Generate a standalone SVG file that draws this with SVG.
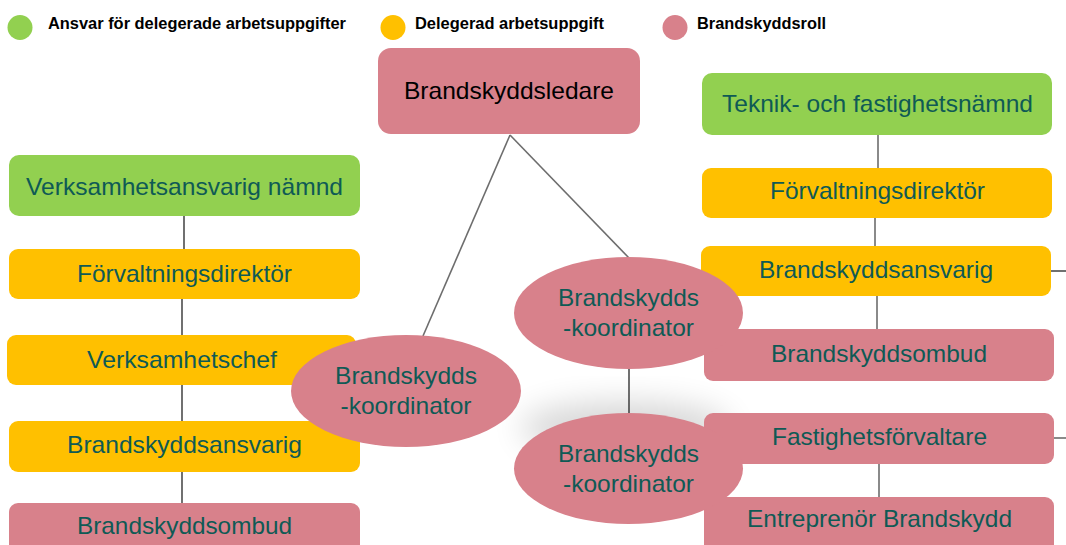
<svg xmlns="http://www.w3.org/2000/svg" width="1066" height="545" viewBox="0 0 1066 545">
<defs>
<filter id="blur" x="-50%" y="-50%" width="200%" height="200%"><feGaussianBlur stdDeviation="16"/></filter>
<style>
.lg{font-family:"Liberation Sans",Arial,sans-serif;font-weight:bold;font-size:16px;fill:#000}
.t{font-family:"Liberation Sans",Arial,sans-serif;font-size:24px;fill:#0f5a55;text-anchor:middle}
.green{fill:#92d050}
.yellow{fill:#ffc000}
.pink{fill:#d8818b}
.ln{stroke:#111;stroke-width:1.2;fill:none}
.lg2{stroke:#6d6d6d;stroke-width:1.6;fill:none}
</style>
</defs>
<rect width="1066" height="545" fill="#fff"/>
<g id="legend">
<circle class="green" cx="20" cy="27.5" r="12.5"/>
<text class="lg" x="48" y="29" textLength="298" lengthAdjust="spacingAndGlyphs">Ansvar för delegerade arbetsuppgifter</text>
<circle class="yellow" cx="393" cy="27.5" r="12.5"/>
<text class="lg" x="415" y="29" textLength="189" lengthAdjust="spacingAndGlyphs">Delegerad arbetsuppgift</text>
<circle class="pink" cx="675" cy="27.5" r="12.5"/>
<text class="lg" x="697" y="29" textLength="129" lengthAdjust="spacingAndGlyphs">Brandskyddsroll</text>
</g>
<ellipse cx="625" cy="428" rx="105" ry="26" fill="#000" opacity="0.16" filter="url(#blur)"/>
<g id="connectors">
<line class="lg2" x1="510" y1="135" x2="423" y2="336"/>
<line class="lg2" x1="510" y1="135" x2="629" y2="258"/>
<line class="ln" x1="629" y1="369" x2="629" y2="413"/>
<line class="ln" x1="184" y1="216" x2="184" y2="249"/>
<line class="ln" x1="182" y1="299" x2="182" y2="335"/>
<line class="ln" x1="182" y1="385" x2="182" y2="421"/>
<line class="ln" x1="182" y1="472" x2="182" y2="503"/>
<line class="lg2" x1="878" y1="135" x2="878" y2="168"/>
<line class="lg2" x1="875" y1="218" x2="875" y2="251"/>
<line class="lg2" x1="877" y1="296" x2="877" y2="329"/>
<line class="lg2" x1="879" y1="464" x2="879" y2="497"/>
<line class="ln" x1="1051" y1="271" x2="1066" y2="271"/>
<line class="lg2" x1="1054" y1="438" x2="1066" y2="438"/>
</g>
<g id="brandskyddsledare">
<rect class="pink" x="378" y="48" width="262" height="86" rx="13"/>
<text class="t" x="509" y="99" style="fill:#000" textLength="210" lengthAdjust="spacingAndGlyphs">Brandskyddsledare</text>
</g>
<g id="verksamhetsansvarig-namnd">
<rect class="green" x="9" y="155" width="351" height="61" rx="10"/>
<text class="t" x="184.5" y="195" textLength="317" lengthAdjust="spacingAndGlyphs">Verksamhetsansvarig nämnd</text>
</g>
<g id="forvaltningsdirektor-l">
<rect class="yellow" x="9" y="249" width="351" height="50" rx="9"/>
<text class="t" x="184.5" y="282" textLength="215" lengthAdjust="spacingAndGlyphs">Förvaltningsdirektör</text>
</g>
<g id="verksamhetschef">
<rect class="yellow" x="7" y="335" width="349" height="50" rx="9"/>
<text class="t" x="182" y="368" textLength="190" lengthAdjust="spacingAndGlyphs">Verksamhetschef</text>
</g>
<g id="brandskyddsansvarig-l">
<rect class="yellow" x="9" y="421" width="351" height="51" rx="9"/>
<text class="t" x="184.5" y="453" textLength="235" lengthAdjust="spacingAndGlyphs">Brandskyddsansvarig</text>
</g>
<g id="brandskyddsombud-l">
<rect class="pink" x="9" y="503" width="351" height="60" rx="9"/>
<text class="t" x="184.5" y="534" textLength="215" lengthAdjust="spacingAndGlyphs">Brandskyddsombud</text>
</g>
<g id="teknik-och-fastighetsnamnd">
<rect class="green" x="702" y="73" width="350" height="62" rx="10"/>
<text class="t" x="877.5" y="112" textLength="311" lengthAdjust="spacingAndGlyphs">Teknik- och fastighetsnämnd</text>
</g>
<g id="forvaltningsdirektor-r">
<rect class="yellow" x="702" y="168" width="350" height="50" rx="9"/>
<text class="t" x="877.5" y="199" textLength="215" lengthAdjust="spacingAndGlyphs">Förvaltningsdirektör</text>
</g>
<g id="brandskyddsansvarig-r">
<rect class="yellow" x="701" y="246" width="350" height="50" rx="9"/>
<text class="t" x="876" y="278" textLength="234" lengthAdjust="spacingAndGlyphs">Brandskyddsansvarig</text>
</g>
<g id="brandskyddsombud-r">
<rect class="pink" x="704" y="329" width="350" height="52" rx="9"/>
<text class="t" x="879" y="362" textLength="216" lengthAdjust="spacingAndGlyphs">Brandskyddsombud</text>
</g>
<g id="fastighetsforvaltare">
<rect class="pink" x="704" y="413" width="350" height="51" rx="9"/>
<text class="t" x="879.5" y="445" textLength="215" lengthAdjust="spacingAndGlyphs">Fastighetsförvaltare</text>
</g>
<g id="entreprenor-brandskydd">
<rect class="pink" x="704" y="497" width="350" height="60" rx="9"/>
<text class="t" x="879.5" y="527" textLength="265" lengthAdjust="spacingAndGlyphs">Entreprenör Brandskydd</text>
</g>
<g id="koordinator-left">
<ellipse class="pink" cx="406" cy="391" rx="115" ry="56"/>
<text class="t" x="406" y="384" textLength="142" lengthAdjust="spacingAndGlyphs">Brandskydds</text>
<text class="t" x="406" y="414" textLength="131" lengthAdjust="spacingAndGlyphs">-koordinator</text>
</g>
<g id="koordinator-right-top">
<ellipse class="pink" cx="628.5" cy="313" rx="114.5" ry="56"/>
<text class="t" x="628.5" y="306" textLength="141" lengthAdjust="spacingAndGlyphs">Brandskydds</text>
<text class="t" x="628.5" y="336" textLength="131" lengthAdjust="spacingAndGlyphs">-koordinator</text>
</g>
<g id="koordinator-right-bottom">
<ellipse class="pink" cx="628.5" cy="468.5" rx="114.5" ry="55.5"/>
<text class="t" x="628.5" y="462" textLength="141" lengthAdjust="spacingAndGlyphs">Brandskydds</text>
<text class="t" x="628.5" y="492" textLength="131" lengthAdjust="spacingAndGlyphs">-koordinator</text>
</g>
</svg>
